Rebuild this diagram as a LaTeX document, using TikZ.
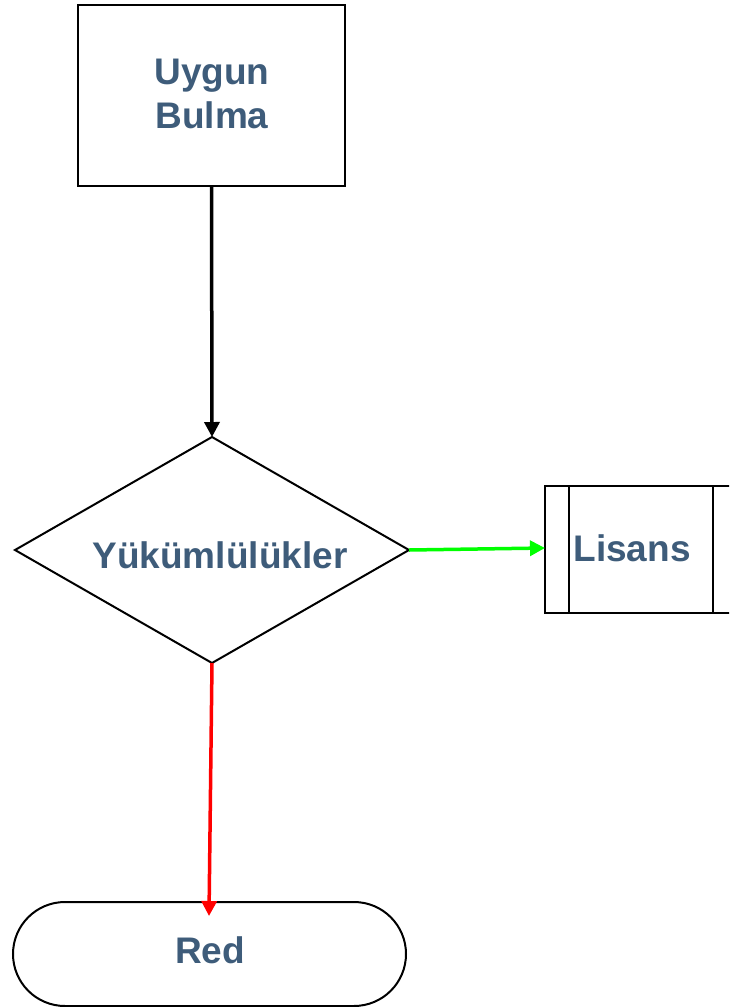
\documentclass[tikz,border=0pt]{standalone}
\usepackage{fontspec}
\setmainfont{Liberation Sans}
\usetikzlibrary{arrows.meta}
\definecolor{txt}{RGB}{62,92,122}
\definecolor{grn}{RGB}{0,255,0}
\begin{document}
\begin{tikzpicture}[x=1pt,y=-1pt,
  lbl/.style={text=txt,font=\bfseries\fontsize{37}{44}\selectfont,align=center},
  outline/.style={draw=black,line width=2pt},
  conn/.style={line width=3.5pt,-{Triangle[length=15pt,width=15pt]}}]
\useasboundingbox (0,0) rectangle (729,1007);
\clip (0,0) rectangle (729,1007);
% Uygun Bulma box
\node[outline,minimum width=267pt,minimum height=181pt,inner sep=0pt] (ub) at (211.5,95.5) {};
\node[lbl] (ubt) at (212,94) {Uygun\\Bulma};
% diamond
\coordinate (dt) at (212,437);
\coordinate (dl) at (15,550);
\coordinate (dr) at (409,550);
\coordinate (db) at (212,663);
\draw[outline] (dt) -- (dr) -- (db) -- (dl) -- cycle;
\node[lbl] (yt) at (220,555) {Yükümlülükler};
% Lisans predefined process
\coordinate (lA) at (545,486);
\coordinate (lB) at (737,613);
\draw[outline] (lA) rectangle (lB);
\draw[outline] (569,486) -- (569,613);
\draw[outline] (713,486) -- (713,613);
\coordinate (lin) at (545,548);
\node[lbl] (lt) at (632,548) {Lisans};
% Red terminal
\draw[outline,rounded corners=52pt] (13,902) rectangle (406,1006);
\coordinate (rin) at (209,916);
\node[lbl] (rt) at (210,950) {Red};
% connectors
\draw[conn,black] (ub.south) -- (dt);
\draw[conn,grn] (dr) -- (lin);
\draw[conn,red] (db) -- (rin);
\end{tikzpicture}
\end{document}
